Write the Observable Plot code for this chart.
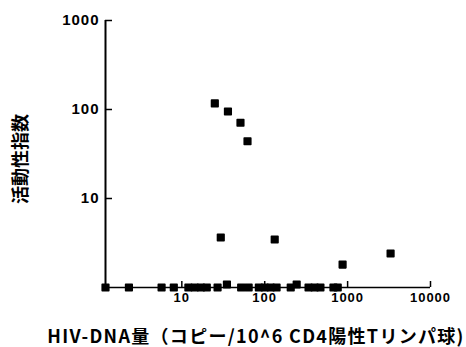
<!DOCTYPE html>
<html>
<head>
<meta charset="utf-8">
<script src="https://cdn.jsdelivr.net/npm/d3@7"></script>
<script src="https://cdn.jsdelivr.net/npm/@observablehq/plot@0.6"></script>
<style>
  html, body { margin: 0; padding: 0; background: #fff; }
  svg { display: block; }
  .xtitle text { letter-spacing: 1.3px; }
  .xlab text { letter-spacing: 1px; }
  .ylab text { letter-spacing: 1px; }
</style>
</head>
<body>
<div id="chart"></div>
<script>
// HIV-DNA (copies / 10^6 CD4+ T cells)
const dnaCopies = [1.2, 2.3, 5.7, 8.0, 12, 14.3, 17, 20, 27, 35, 52, 64, 85, 100, 118, 139, 206, 243, 338, 400, 470, 675, 760,
                   25, 36, 51, 62, 29.5, 132, 870, 3300];
// activity index
const activity = [1, 1, 1, 1, 1, 1, 1, 1, 1, 1.08, 1, 1, 1, 1, 1, 1, 1, 1.08, 1, 1, 1, 1, 1,
                  117, 95, 71, 44, 3.65, 3.46, 1.81, 2.41];
const xTicks = [10, 100, 1000, 10000];
const yTicks = [10, 100, 1000];
const xTitle = "HIV-DNA量（コピー/10^6 CD4陽性Tリンパ球)";
const yTitle = "活動性指数";

const data = dnaCopies.map((x, i) => ({x, y: activity[i]}));

const chart = Plot.plot({
  width: 466,
  height: 347,
  marginLeft: 105,
  marginRight: 36,
  marginTop: 20,
  marginBottom: 60,
  style: {fontFamily: "'Liberation Sans', Arial, sans-serif", color: "#000", background: "#fff"},
  x: {type: "log", domain: [1.2, 10000]},
  y: {type: "log", domain: [1, 1000]},
  marks: [
    Plot.ruleX([1.2], {stroke: "#000", strokeWidth: 2}),
    Plot.ruleY([1], {stroke: "#000", strokeWidth: 1.5}),
    Plot.axisX({ticks: xTicks, tickSize: -6, tickFormat: () => "", strokeWidth: 1.5, label: null}),
    Plot.axisX({ticks: xTicks, tickSize: 0, tickPadding: 5, tickFormat: d => String(d),
                fontSize: 13, fontWeight: "bold", label: null, className: "xlab"}),
    Plot.axisY({ticks: yTicks, tickSize: -7, tickFormat: () => "", strokeWidth: 1.5, label: null}),
    Plot.axisY({ticks: yTicks, tickSize: 0, tickPadding: 6, tickFormat: d => String(d),
                fontSize: 15, fontWeight: "bold", label: null, className: "ylab"}),
    Plot.dot(data, {x: "x", y: "y", symbol: "square", r: 3.7, fill: "#000", stroke: "#000",
                    strokeWidth: 1.6, strokeLinejoin: "round"}),
    Plot.text([xTitle], {frameAnchor: "bottom", dx: -12, dy: 55, fontSize: 18, fontWeight: "bold",
                         textAnchor: "middle", className: "xtitle",
                         fontFamily: "'Noto Sans CJK JP', sans-serif", fill: "#000"}),
    Plot.text([yTitle], {frameAnchor: "left", textAnchor: "middle", dx: -84, dy: 5, rotate: -90,
                         fontSize: 18, fontWeight: "bold",
                         fontFamily: "'Noto Sans CJK JP', sans-serif", fill: "#000"})
  ]
});
document.getElementById("chart").appendChild(chart);
</script>
</body>
</html>
